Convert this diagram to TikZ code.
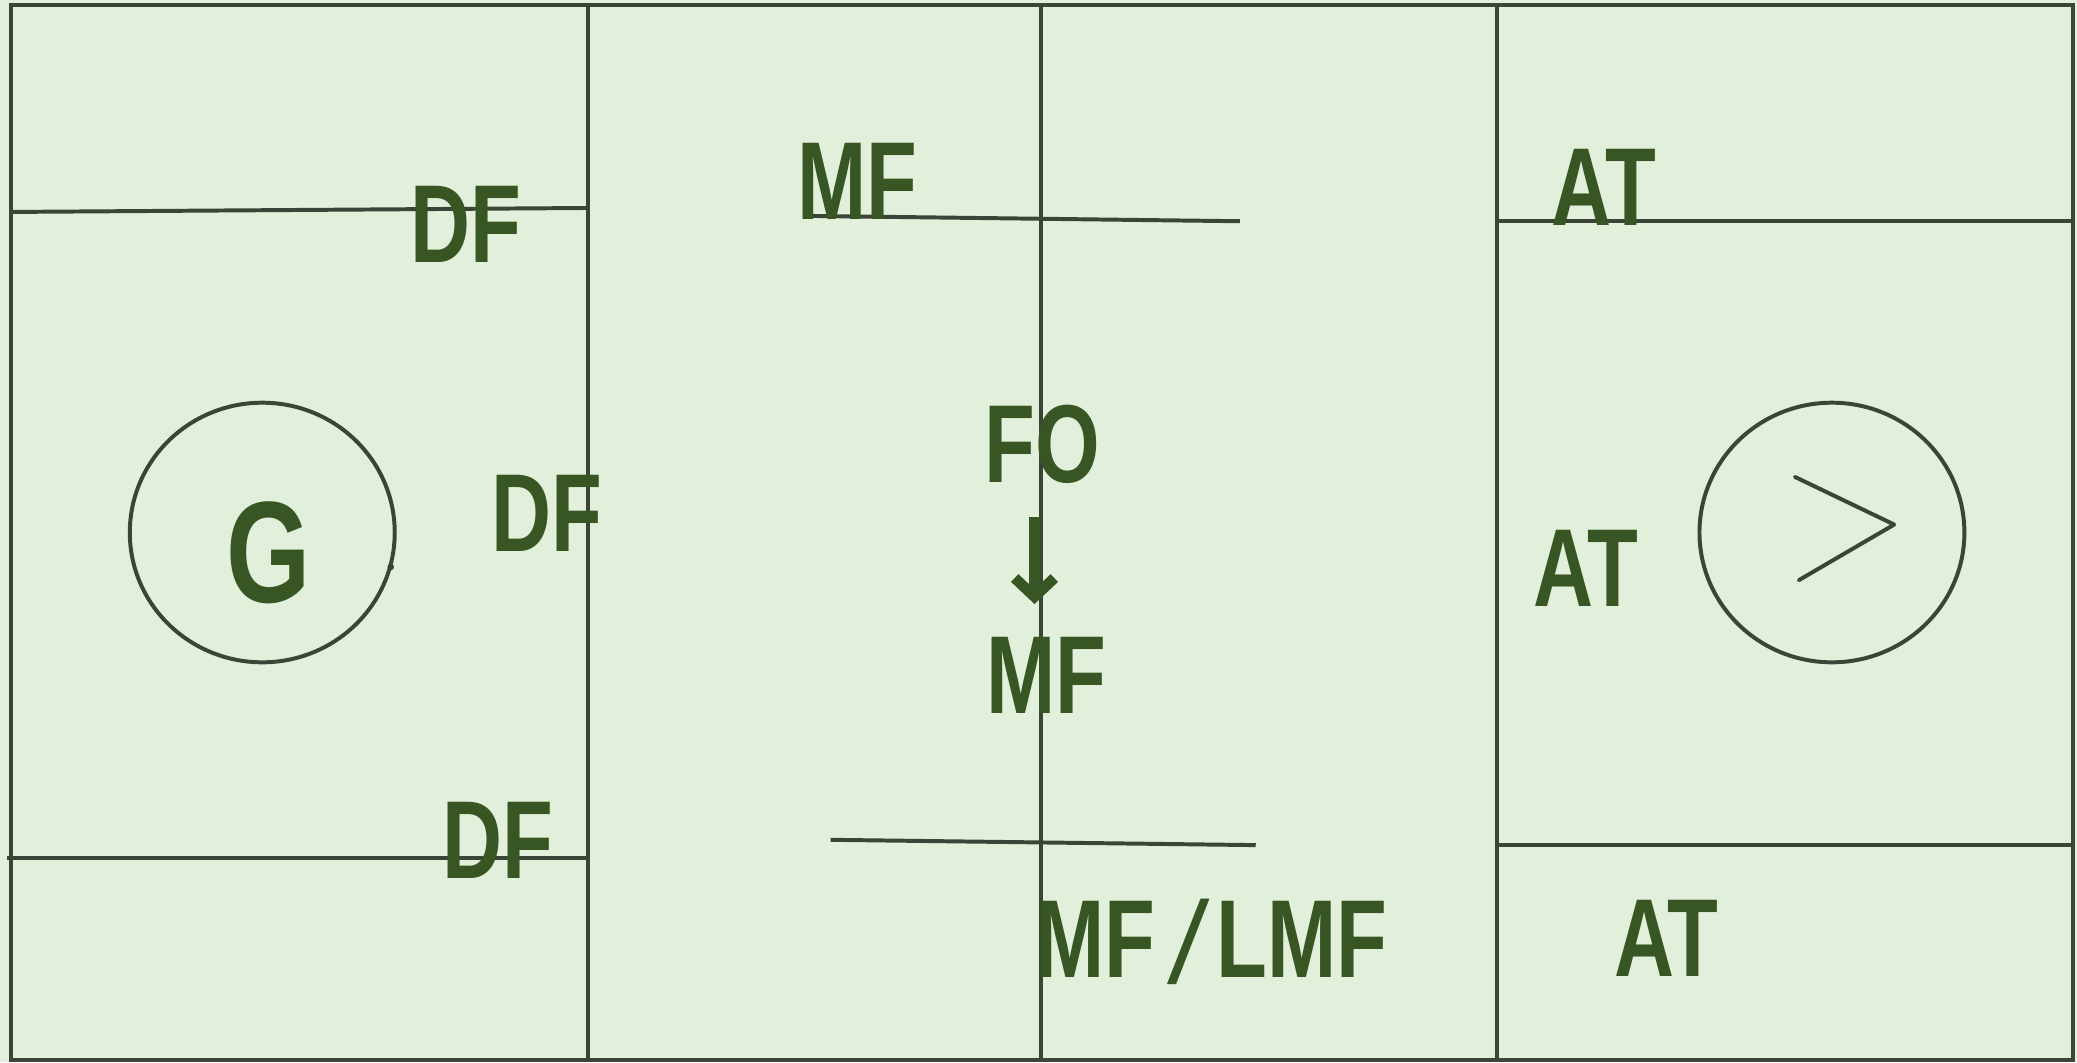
\documentclass[tikz,border=0pt]{standalone}
\usepackage{fontspec}
\setmainfont{Liberation Sans}
\newfontfamily\lab{Liberation Sans}[FakeStretch=0.75]
\newfontfamily\slashfont{Liberation Sans}[FakeSlant=0.12]
\usetikzlibrary{arrows.meta}
\definecolor{bg}{HTML}{E2EFDA}
\definecolor{txt}{HTML}{375623}
\definecolor{ln}{HTML}{3C4438}
\begin{document}
\begin{tikzpicture}[x=0.01cm,y=-0.01cm,
  field/.style={draw=ln,line width=0.85pt},
  lbl/.style={text=txt,font=\lab\bfseries\fontsize{23.8}{24}\selectfont,inner sep=0pt,anchor=base},
  biglbl/.style={lbl,font=\lab\bfseries\fontsize{31}{32}\selectfont}]
\fill[bg] (0,0) rectangle (1568,802);
\useasboundingbox (0,0) rectangle (1568,802);
% field outline and lines
\draw[field] (8,4) rectangle (1565,800);
\draw[field] (444,4) -- (444,800);
\draw[field] (786,4) -- (786,800);
\draw[field] (1130,4) -- (1130,800);
\draw[field] (8,160) -- (444,157);
\draw[field] (5,648) -- (444,648);
\draw[field] (612,163) -- (936,167);
\draw[field] (627,634) -- (948,638);
\draw[field] (1130,167) -- (1565,167);
\draw[field] (1130,638) -- (1565,638);
% goal circles
\draw[field] (198,402) ellipse [x radius=100, y radius=98];
\fill[ln] (295,428) circle (2.5);
\draw[field] (1383,402) ellipse [x radius=100, y radius=98];
\draw[field, line join=round, line cap=round] (1355,360) -- (1430,396) -- (1358,438);
% labels
\node[lbl] (df1) at (352,198) {DF};
\node[lbl] (mf1) at (647,166) {MF};
\node[lbl] (at1) at (1211,170) {AT};
\node[biglbl] (g) at (203,455) {G};
\node[lbl] (df2) at (413,416) {DF};
\node[lbl] (fo) at (787,364) {FO};
\node[lbl] (mf2) at (790,539) {MF};
\node[lbl] (at2) at (1197,458) {AT};
\node[lbl] (df3) at (376,663) {DF};
\node[lbl, anchor=base west] (mf3) at (781,738) {MF\kern2.6pt\raisebox{-1.2pt}{\slashfont\mdseries\fontsize{25}{26}\selectfont /}\kern3.6pt LMF};
\node[lbl] (at3) at (1258,737) {AT};
% arrow FO -> MF
\coordinate (a1) at (781,390);
\coordinate (a2) at (781,456);
\draw[txt, line width=2.3pt, -{Straight Barb[length=4pt,width=8.5pt]}] (a1) -- (a2);
\end{tikzpicture}
\end{document}
